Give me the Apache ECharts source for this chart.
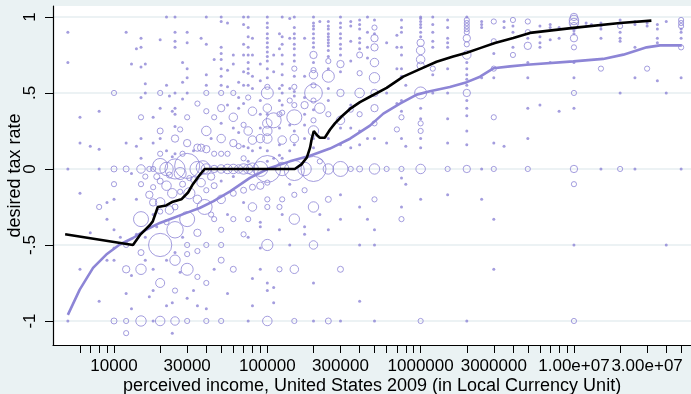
<!DOCTYPE html>
<html><head><meta charset="utf-8">
<script src="https://cdn.jsdelivr.net/npm/echarts@6/dist/echarts.min.js"></script>
<style>html,body{margin:0;padding:0;background:#eaf2f3}#c{width:691px;height:394px}</style>
</head><body><div id="c"></div>
<script>
const xTickValues = [6000,7000,8000,9000,10000,20000,30000,40000,50000,60000,70000,80000,90000,
  100000,200000,300000,400000,500000,600000,700000,800000,900000,
  1000000,2000000,3000000,4000000,5000000,6000000,7000000,8000000,9000000,
  10000000,20000000,30000000,40000000,50000000];
const xLabelValues = [10000,30000,100000,300000,1000000,3000000,10000000,30000000];
const xLabelTexts = ['10000','30000','100000','300000','1000000','3000000','1.00e+07','3.00e+07'];
const yLabelValues = [-1,-0.5,0,0.5,1];
const yLabelTexts = ['-1','-.5','0','.5','1'];
const xTitle = 'perceived income, United States 2009 (in Local Currency Unit)';
const yTitle = 'desired tax rate';

const blackLine = [[4800,-0.43],[13300,-0.5],[14900,-0.43],[17100,-0.37],[17900,-0.345],[19300,-0.25],[21900,-0.24],[24200,-0.215],[27500,-0.2],[30400,-0.155],[32700,-0.1],[36200,-0.04],[39000,0],[151000,0],[167000,0.03],[181000,0.075],[190000,0.14],[195000,0.2],[201000,0.25],[211000,0.222],[220000,0.205],[237000,0.205],[256000,0.258],[276000,0.3],[305000,0.345],[346000,0.395],[402000,0.44],[467000,0.475],[600000,0.533],[770000,0.607],[990000,0.657],[1270000,0.705],[1630000,0.74],[2000000,0.765],[2440000,0.795],[3050000,0.828],[4020000,0.862],[5160000,0.895],[9900000,0.928],[20000000,0.96],[32000000,0.976]];

const lavenderLine = [[5000,-0.96],[5975,-0.794],[7300,-0.651],[8900,-0.563],[10900,-0.497],[13300,-0.454],[16300,-0.398],[19900,-0.355],[24300,-0.322],[29700,-0.289],[36200,-0.257],[44300,-0.213],[57200,-0.147],[77000,-0.059],[104000,0.007],[140500,0.05],[190000,0.0875],[256000,0.134],[346000,0.199],[467000,0.285],[571000,0.364],[733000,0.43],[943000,0.489],[1150000,0.511],[1550000,0.539],[2000000,0.571],[2440000,0.607],[2980000,0.662],[3830000,0.675],[4920000,0.686],[9900000,0.708],[15500000,0.724],[21000000,0.752],[29800000,0.8],[36400000,0.813],[50500000,0.813]];

// [income, desired rate, weight]
const scatterPoints = [
[5000,0.9,1],[5000,0.7,1],[5000,0,1],[5000,-1,1],
[6000,0.34,1],[6000,0.17,1],[6000,-0.16,1],[6000,-0.66,1],
[7000,0.15,1],[7000,-0.42,1],
[8000,0.38,1],[8000,0.13,1],[8000,0,1],[8000,-0.25,3],[8000,-0.87,1],
[9000,-0.22,1],[9000,-0.33,1],[9000,-0.6,1],
[10000,0.5,3],[10000,0,4],[10000,-0.1,3],[10000,-0.2,1],[10000,-0.4,1],[10000,-0.52,1],[10000,-0.6,1],[10000,-1,4],
[11000,-0.45,1],
[12000,0.9,1],[12000,0.17,1],[12000,0,4],[12000,-0.5,3],[12000,-0.66,6],[12000,-0.82,1],[12000,-1,3],[12000,-1.08,3],
[13000,0.69,1],[13000,-0.03,1],[13000,-0.92,1],[13000,-0.7,1],
[14000,0.79,1],[14000,0.15,1],[14000,-0.43,1],[14000,-0.2,1],
[15000,0.86,1],[15000,0.8,1],[15000,0.67,1],[15000,0.47,1],[15000,0.34,3],[15000,0.2,1],[15000,0.07,1],[15000,0,8],[15000,-0.33,25],[15000,-0.55,4],[15000,-0.66,12],[15000,-1,12],[15000,-0.1,3],
[16000,0.69,1],[16000,0.56,1],[16000,0.5,1],[16000,-0.05,3],[16000,-0.45,1],[16000,-0.6,1],
[17000,0,3],[17000,-0.17,6],[17000,-0.84,1],
[18000,0.34,1],[18000,0.17,1],[18000,0,3],[18000,-0.22,6],[18000,-0.3,1],[18000,-0.66,1],[18000,-0.8,1],[18000,-1,1],[18000,-0.12,3],
[19000,-0.05,4],[19000,-0.38,1],
[20000,0.85,1],[20000,0.5,3],[20000,0.4,1],[20000,0.25,4],[20000,0.2,1],[20000,0.1,3],[20000,0.02,25],[20000,-0.22,10],[20000,-0.5,60],[20000,-0.75,9],[20000,-1,10],[20000,-0.08,4],[20000,-0.28,3],
[22000,1,1],[22000,0.55,1],[22000,0.12,1],[22000,0,20],[22000,-0.11,10],[22000,-0.6,1],[22000,-0.35,3],[22000,-0.9,1],
[23000,0.48,1],[23000,-0.27,8],[23000,-0.04,4],
[24000,0.38,1],[24000,0.08,1],[24000,-0.16,10],[24000,-1.08,1],[24000,-0.88,1],
[25000,1,1],[25000,0.9,1],[25000,0.84,1],[25000,0.8,1],[25000,0.5,1],[25000,0.4,1],[25000,0.36,1],[25000,0.28,1],[25000,0.2,6],[25000,0.1,1],[25000,0,45],[25000,-0.4,30],[25000,-0.6,12],[25000,-0.8,3],[25000,-1,8],[25000,-0.25,4],[25000,-0.55,1],
[27000,0.26,3],[27000,-0.03,16],[27000,-0.15,3],[27000,-0.68,1],
[28000,0.7,1],[28000,0.57,1],[28000,0.46,1],[28000,0.1,3],[28000,-0.1,4],[28000,-0.45,1],
[30000,0.9,1],[30000,0.83,1],[30000,0.66,1],[30000,0.6,1],[30000,0.5,1],[30000,0.34,3],[30000,0.17,6],[30000,0.02,70],[30000,-0.33,25],[30000,-0.5,3],[30000,-0.56,3],[30000,-0.66,16],[30000,-1,3],[30000,-0.85,1],
[31000,-0.16,14],[31000,-0.06,3],
[33000,0.12,1],[33000,-0.07,4],[33000,-0.8,1],
[35000,0.43,3],[35000,0.14,6],[35000,0,25],[35000,-0.2,8],[35000,-0.42,6],[35000,-0.54,3],[35000,-0.71,3],[35000,-0.9,1],
[37000,0.86,1],[37000,0.14,6],[37000,-0.09,8],
[38000,0.01,20],[39000,-0.25,25],
[40000,1,1],[40000,0.82,1],[40000,0.62,1],[40000,0.55,1],[40000,0.5,3],[40000,0.38,3],[40000,0.25,10],[40000,0.13,6],[40000,0,12],[40000,-0.5,3],[40000,-0.75,3],[40000,-1,3],[40000,-0.14,3],[40000,-0.92,1],
[43000,-0.05,6],[43000,-0.3,3],[43000,0.2,1],
[45000,0.34,3],[45000,0.1,3],[45000,0,6],[45000,-0.11,4],[45000,-0.33,3],[45000,-0.66,1],[45000,0.72,1],
[50000,1,1],[50000,0.97,1],[50000,0.8,1],[50000,0.76,1],[50000,0.72,1],[50000,0.66,1],[50000,0.61,1],[50000,0.55,1],[50000,0.5,3],[50000,0.4,6],[50000,0.3,1],[50000,0.2,8],[50000,0.1,3],[50000,0,8],[50000,-0.2,8],[50000,-0.4,3],[50000,-0.5,3],[50000,-0.6,4],[50000,-1,3],[50000,-0.08,1],
[55000,0.96,1],[55000,0.65,1],[55000,0.54,1],[55000,0.42,1],[55000,0.1,3],[55000,0,10],[55000,-0.82,1],[55000,-0.3,1],
[60000,0.75,1],[60000,0.69,1],[60000,0.5,3],[60000,0.34,8],[60000,0.27,1],[60000,0.17,6],[60000,0,10],[60000,-0.16,4],[60000,-0.33,3],[60000,-0.66,4],[60000,-0.05,1],
[65000,0.57,1],[65000,0.47,1],[65000,0.4,1],[65000,0.24,1],[65000,0.15,3],[65000,0,8],
[70000,1,1],[70000,0.95,1],[70000,0.82,1],[70000,0.75,1],[70000,0.64,1],[70000,0.55,1],[70000,0.43,1],[70000,0.29,3],[70000,0.15,1],[70000,0.07,3],[70000,0,12],[70000,-0.14,4],[70000,-0.43,3],[70000,-0.22,1],
[75000,1,1],[75000,0.93,1],[75000,0.87,1],[75000,0.8,1],[75000,0.75,1],[75000,0.7,1],[75000,0.66,1],[75000,0.63,1],[75000,0.55,1],[75000,0.47,3],[75000,0.25,8],[75000,0.14,1],[75000,0.05,1],[75000,0,10],[75000,-0.33,3],[75000,-1,1],[75000,-0.45,1],
[80000,0.86,1],[80000,0.75,1],[80000,0.61,1],[80000,0.53,1],[80000,0.38,8],[80000,0.19,8],[80000,0.12,1],[80000,0,16],[80000,-0.12,4],[80000,-0.25,8],[80000,-0.9,1],[80000,-0.72,1],
[90000,0.69,1],[90000,0.58,1],[90000,0.45,1],[90000,0.36,1],[90000,0.27,1],[90000,0.2,8],[90000,0.14,1],[90000,0,25],[90000,-0.11,6],[90000,-0.35,1],[90000,-0.38,1],[90000,-0.66,1],[90000,-0.52,1],
[100000,1,1],[100000,0.96,1],[100000,0.93,1],[100000,0.89,1],[100000,0.86,1],[100000,0.83,1],[100000,0.8,1],[100000,0.77,1],[100000,0.74,1],[100000,0.71,1],[100000,0.66,1],[100000,0.6,1],[100000,0.54,3],[100000,0.5,16],[100000,0.4,8],[100000,0.36,1],[100000,0.3,10],[100000,0.25,10],[100000,0.2,10],[100000,0.12,1],[100000,0.05,1],[100000,0,80],[100000,-0.2,3],[100000,-0.25,3],[100000,-0.5,14],[100000,-0.75,1],[100000,-0.8,1],[100000,-1,10],[100000,-0.09,3],
[110000,0.75,1],[110000,0.64,1],[110000,0.32,25],[110000,0.07,1],[110000,-0.88,1],[110000,-0.78,1],
[120000,0.89,1],[120000,0.79,1],[120000,0.53,1],[120000,0.45,1],[120000,0.36,3],[120000,0.27,1],[120000,0.16,1],[120000,0.09,1],[120000,-0.25,3],[120000,-0.66,3],[120000,-0.4,1],
[125000,1,1],[125000,0.87,1],[125000,0.82,1],[125000,0.75,1],[125000,0.69,1],[125000,0.62,1],[125000,0.55,1],[125000,0.5,1],[125000,0.42,1],[125000,0.37,3],[125000,0.19,8],[125000,0.07,1],[125000,0,20],[125000,-0.2,3],[125000,-0.3,1],
[140000,0.99,1],[140000,0.86,1],[140000,0.53,1],[140000,0.45,3],[140000,0.29,1],[140000,0.12,1],[140000,-0.1,1],[140000,-0.5,1],
[150000,1,1],[150000,0.93,1],[150000,0.89,1],[150000,0.86,1],[150000,0.82,1],[150000,0.79,1],[150000,0.75,1],[150000,0.71,1],[150000,0.66,3],[150000,0.61,1],[150000,0.54,3],[150000,0.51,1],[150000,0.48,1],[150000,0.42,3],[150000,0.34,25],[150000,0.25,1],[150000,0.2,8],[150000,0.16,1],[150000,-0.01,45],[150000,-0.17,3],[150000,-0.33,12],[150000,-0.66,8],[150000,-1,3],
[175000,0.86,1],[175000,0.61,1],[175000,0.47,1],[175000,0.42,6],[175000,0.36,1],[175000,0.29,1],[175000,0.2,1],[175000,0,20],[175000,-0.14,3],[175000,-0.38,1],[175000,-0.43,1],
[200000,1,1],[200000,0.96,1],[200000,0.94,1],[200000,0.92,1],[200000,0.89,1],[200000,0.86,1],[200000,0.83,1],[200000,0.8,1],[200000,0.75,6],[200000,0.7,1],[200000,0.65,3],[200000,0.62,8],[200000,0.55,3],[200000,0.5,35],[200000,0.45,3],[200000,0.39,1],[200000,0.32,3],[200000,0.25,12],[200000,0.2,1],[200000,0.14,1],[200000,0,70],[200000,-0.25,12],[200000,-0.5,8],[200000,-0.75,1],[200000,-1,1],
[220000,0.97,1],[220000,0.4,12],[220000,0.05,3],[220000,-0.3,1],
[250000,0.97,1],[250000,0.94,1],[250000,0.92,1],[250000,0.89,1],[250000,0.87,1],[250000,0.85,1],[250000,0.83,1],[250000,0.81,1],[250000,0.78,1],[250000,0.74,1],[250000,0.71,3],[250000,0.66,1],[250000,0.61,16],[250000,0.53,1],[250000,0.45,1],[250000,0.36,3],[250000,0.2,1],[250000,0,12],[250000,-0.2,4],[250000,-0.4,1],[250000,-1,4],
[300000,1,1],[300000,0.96,1],[300000,0.93,1],[300000,0.89,1],[300000,0.86,1],[300000,0.82,1],[300000,0.79,1],[300000,0.75,1],[300000,0.69,6],[300000,0.64,1],[300000,0.5,6],[300000,0.32,8],[300000,0.27,1],[300000,0.16,1],[300000,0,25],[300000,-0.17,1],[300000,-0.33,1],[300000,-0.66,4],[300000,-1,1],
[350000,0.97,1],[350000,0.94,1],[350000,0.84,1],[350000,0.71,1],[350000,0.42,1],[350000,0.39,3],[350000,0.27,1],[350000,0.14,1],[350000,0,3],
[400000,0.98,1],[400000,0.95,1],[400000,0.92,1],[400000,0.86,1],[400000,0.83,1],[400000,0.79,1],[400000,0.75,4],[400000,0.63,3],[400000,0.5,10],[400000,0.36,3],[400000,0.25,1],[400000,0.16,1],[400000,0,4],[400000,-0.25,1],[400000,-0.5,1],[400000,-0.87,1],
[450000,1,1],[450000,0.9,1],[450000,0.8,1],[450000,0.73,1],[450000,0.2,1],[450000,-0.33,1],
[500000,0.98,1],[500000,0.93,3],[500000,0.89,1],[500000,0.86,6],[500000,0.8,6],[500000,0.7,8],[500000,0.6,12],[500000,0.5,6],[500000,0.4,6],[500000,0.3,3],[500000,0.2,1],[500000,0,12],[500000,-0.2,3],[500000,-0.4,1],[500000,-0.5,1],[500000,-1,1],
[600000,0.83,1],[600000,0.5,1],[600000,0.17,1],[600000,0,3],
[700000,0.88,1],[700000,0.8,1],[700000,0.66,1],[700000,0.43,1],[700000,0.26,3],
[750000,0.98,1],[750000,0.93,1],[750000,0.9,1],[750000,0.8,1],[750000,0.75,1],[750000,0.66,1],[750000,0.61,1],[750000,0.45,1],[750000,0.38,1],[750000,0.34,3],[750000,0.2,1],[750000,0,3],[750000,-0.33,3],[750000,-0.25,1],[750000,-0.06,1],
[800000,0.55,1],[800000,0.15,1],[800000,-0.1,1],
[1000000,1,1],[1000000,0.99,1],[1000000,0.97,1],[1000000,0.95,1],[1000000,0.93,1],[1000000,0.9,1],[1000000,0.87,1],[1000000,0.83,6],[1000000,0.78,8],[1000000,0.72,8],[1000000,0.68,6],[1000000,0.5,16],[1000000,0.4,1],[1000000,0.33,1],[1000000,0.3,3],[1000000,0.25,3],[1000000,0.2,1],[1000000,0.14,1],[1000000,0,10],[1000000,-0.2,1],[1000000,-1,3],
[1200000,1,1],[1200000,0.95,1],[1200000,0.9,1],[1200000,0.84,1],[1200000,0.8,1],[1200000,0.66,3],[1200000,0.62,1],[1200000,0.5,1],
[1500000,0.98,1],[1500000,0.93,1],[1500000,0.86,1],[1500000,0.83,1],[1500000,0.8,1],[1500000,0.66,1],[1500000,0.5,1],[1500000,0.33,1],[1500000,0.17,1],[1500000,0,3],[1500000,-0.17,1],
[2000000,1,1],[2000000,0.98,3],[2000000,0.96,3],[2000000,0.94,3],[2000000,0.92,3],[2000000,0.9,3],[2000000,0.86,6],[2000000,0.82,3],[2000000,0.75,8],[2000000,0.7,1],[2000000,0.66,1],[2000000,0.62,1],[2000000,0.59,1],[2000000,0.55,1],[2000000,0.5,6],[2000000,0.45,1],[2000000,0.4,1],[2000000,0.35,1],[2000000,0.25,1],[2000000,0.16,1],[2000000,0,6],[2000000,-1,1],
[2500000,0.97,1],[2500000,0.95,1],[2500000,0.93,1],[2500000,0.6,1],[2500000,0,1],[2500000,-0.2,1],
[3000000,0.97,3],[3000000,0.84,3],[3000000,0.76,1],[3000000,0.66,3],[3000000,0.6,1],[3000000,0.34,3],[3000000,0.17,1],[3000000,0,3],[3000000,-0.33,1],[3000000,-0.66,1],
[3500000,0.97,1],[3500000,0.93,1],[3500000,0.15,1],
[4000000,0.98,3],[4000000,0.94,1],[4000000,0.9,1],[4000000,0.8,1],[4000000,0.75,3],
[5000000,0.97,3],[5000000,0.9,3],[5000000,0.86,1],[5000000,0.81,6],[5000000,0.7,1],[5000000,0.6,1],[5000000,0.4,1],[5000000,0.2,1],[5000000,0,3],
[6000000,0.94,1],[6000000,0.87,1],[6000000,0.83,1],[6000000,0.8,1],[6000000,0.42,1],
[7000000,0.95,1],[7000000,0.93,1],[7000000,0.85,1],[7000000,0.7,1],
[8000000,0.93,1],[8000000,0.86,1],[8000000,0.38,1],
[10000000,1,6],[10000000,0.98,10],[10000000,0.96,10],[10000000,0.94,6],[10000000,0.91,1],[10000000,0.89,1],[10000000,0.86,6],[10000000,0.8,3],[10000000,0.7,1],[10000000,0.6,1],[10000000,0.5,3],[10000000,0.4,1],[10000000,0,6],[10000000,-0.1,3],[10000000,-0.5,1],[10000000,-1,3],
[12000000,0.96,1],[12000000,0.94,1],[13000000,0.95,1],
[15000000,0.96,1],[15000000,0.94,1],[15000000,0.92,1],[15000000,0.86,1],[15000000,0.66,3],[15000000,0,1],
[20000000,0.98,1],[20000000,0.96,1],[20000000,0.94,3],[20000000,0.9,1],[20000000,0.86,1],[20000000,0.84,1],[20000000,0.5,1],[20000000,0,3],
[25000000,0.97,1],[25000000,0.95,1],[25000000,0.8,1],[25000000,0.6,1],[25000000,0,1],
[30000000,0.96,1],[30000000,0.94,1],[30000000,0.66,3],
[35000000,0.95,1],[35000000,0.92,1],[35000000,0.86,1],[35000000,0.83,1],[35000000,0.58,1],
[40000000,0.97,1],[40000000,0.5,1],[40000000,-0.5,1],
[50000000,0.98,3],[50000000,0.96,3],[50000000,0.94,3],[50000000,0.92,1],[50000000,0.9,1],[50000000,0.86,1],[50000000,0.8,3],[50000000,0.6,1],[50000000,0,1]
];

const LAV = '#8d85d6';
const FONT = '"Liberation Sans", Arial, sans-serif';
const dots = scatterPoints.filter(p => p[2] <= 1);
const rings = scatterPoints.filter(p => p[2] > 1);

function xFmt(v) {
  const i = xLabelValues.findIndex(t => Math.abs(t - v) / t < 1e-6);
  return i >= 0 ? xLabelTexts[i] : '';
}
function yFmt(v) {
  const i = yLabelValues.findIndex(t => Math.abs(t - v) < 1e-6);
  return i >= 0 ? yLabelTexts[i] : '';
}

const chart = echarts.init(document.getElementById('c'), null, {renderer: 'canvas'});
chart.setOption({
  animation: false,
  backgroundColor: '#eaf2f3',
  textStyle: {fontFamily: FONT},
  grid: {left: 53, right: 0, top: 6, bottom: 49, show: true, backgroundColor: '#ffffff', borderWidth: 0,
         containLabel: false, outerBoundsMode: 'none'},
  xAxis: {
    type: 'log', logBase: 10, min: 4000, max: 58000000,
    name: xTitle, nameLocation: 'middle', nameGap: 32, nameMoveOverlap: false,
    nameTextStyle: {fontSize: 18, color: '#000', fontFamily: FONT},
    axisLine: {onZero: false, lineStyle: {color: '#000', width: 1.2}},
    axisTick: {customValues: xTickValues, length: 8, lineStyle: {color: '#000', width: 1}},
    axisLabel: {customValues: xLabelValues, formatter: xFmt, fontSize: 17, color: '#000', margin: 13,
                fontFamily: FONT, hideOverlap: false},
    splitLine: {show: false}, minorTick: {show: false}
  },
  yAxis: {
    type: 'value', min: -1.158, max: 1.072,
    name: yTitle, nameLocation: 'middle', nameGap: 29, nameRotate: 90, nameMoveOverlap: false,
    nameTextStyle: {fontSize: 18, color: '#000', fontFamily: FONT},
    axisLine: {show: true, onZero: false, lineStyle: {color: '#000', width: 1.2}},
    axisTick: {show: true, customValues: yLabelValues, length: 8, lineStyle: {color: '#000'}},
    axisLabel: {customValues: yLabelValues, formatter: yFmt, rotate: 90, fontSize: 17, color: '#000', margin: 14,
                fontFamily: FONT, hideOverlap: false},
    splitLine: {show: true, lineStyle: {color: '#e6eef1', width: 1.6}}
  },
  series: [
    {type: 'scatter', data: rings, symbol: 'circle', symbolSize: v => 3 * Math.sqrt(v[2]),
     itemStyle: {color: 'rgba(0,0,0,0)', borderColor: LAV, borderWidth: 1}, progressive: 0, z: 2, silent: true},
    {type: 'scatter', data: dots, symbol: 'circle', symbolSize: 3,
     itemStyle: {color: LAV, borderWidth: 0}, progressive: 0, z: 2, silent: true},
    {type: 'line', data: lavenderLine, showSymbol: false, symbol: 'none', smooth: false,
     lineStyle: {color: LAV, width: 2.6}, z: 3, silent: true},
    {type: 'line', data: blackLine, showSymbol: false, symbol: 'none', smooth: false,
     lineStyle: {color: '#000', width: 2.6}, z: 4, silent: true}
  ]
});
</script>
</body></html>
